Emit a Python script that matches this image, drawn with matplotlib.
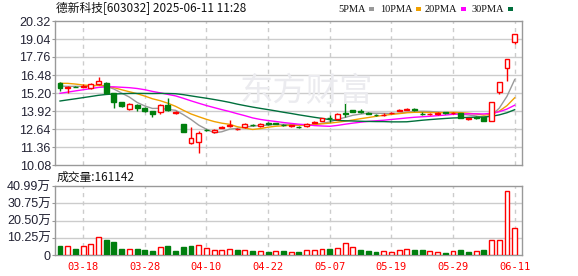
import numpy as np
import matplotlib
matplotlib.use("Agg")
import matplotlib.pyplot as plt
from matplotlib.patches import Rectangle

# ---------------- data ----------------
dates = ["03-13", "03-14", "03-17", "03-18", "03-19", "03-20", "03-21", "03-24", "03-25", "03-26",
         "03-27", "03-28", "03-31", "04-01", "04-02", "04-03", "04-07", "04-08", "04-09", "04-10",
         "04-11", "04-14", "04-15", "04-16", "04-17", "04-18", "04-21", "04-22", "04-23", "04-24",
         "04-25", "04-28", "04-29", "04-30", "05-06", "05-07", "05-08", "05-09", "05-12", "05-13",
         "05-14", "05-15", "05-16", "05-19", "05-20", "05-21", "05-22", "05-23", "05-26", "05-27",
         "05-28", "05-29", "05-30", "06-03", "06-04", "06-05", "06-06", "06-09", "06-10", "06-11"]

open_ = [15.89, 15.54, 15.66, 15.66, 15.55, 15.84, 15.89, 15.18, 14.55, 14.06,
         14.35, 14.16, 13.92, 13.83, 14.35, 13.80, 12.97, 11.62, 11.74, 12.60,
         12.40, 12.74, 12.82, 12.62, 12.78, 12.93, 12.85, 13.08, 13.06, 12.94,
         12.82, 12.79, 12.82, 13.08, 13.22, 13.43, 13.33, 13.75, 13.99, 13.95,
         13.76, 13.67, 13.62, 13.77, 13.94, 14.01, 14.03, 13.74, 13.69, 13.72,
         13.82, 13.78, 13.76, 13.35, 13.52, 13.47, 13.23, 15.29, 16.96, 18.81]
high = [16.00, 15.68, 15.72, 15.85, 15.90, 16.32, 15.95, 15.20, 14.58, 14.50,
        14.40, 14.20, 13.95, 14.45, 14.82, 13.95, 13.00, 12.80, 12.50, 12.66,
        12.62, 12.86, 13.27, 12.72, 13.05, 12.98, 13.08, 13.12, 13.10, 12.98,
        12.96, 12.85, 13.08, 13.18, 13.45, 13.62, 13.75, 14.54, 14.02, 14.03,
        13.82, 13.72, 13.78, 13.88, 14.05, 14.10, 14.10, 13.82, 13.78, 13.88,
        13.86, 13.86, 13.80, 13.42, 13.55, 13.50, 14.55, 16.01, 17.61, 19.37]
low = [15.36, 15.20, 15.60, 15.62, 15.45, 15.80, 15.15, 14.11, 14.22, 14.00,
       13.95, 13.88, 13.47, 13.70, 13.95, 13.70, 12.40, 11.60, 10.96, 12.48,
       12.35, 12.70, 12.78, 12.58, 12.70, 12.85, 12.80, 12.95, 12.98, 12.85,
       12.80, 12.70, 12.78, 13.05, 13.18, 13.16, 13.30, 13.50, 13.82, 13.80,
       13.68, 13.58, 13.58, 13.72, 13.90, 13.97, 13.92, 13.66, 13.65, 13.66,
       13.72, 13.74, 13.42, 13.30, 13.38, 13.20, 13.20, 15.13, 16.08, 18.66]
close = [15.53, 15.65, 15.62, 15.72, 15.82, 16.05, 15.22, 14.58, 14.30, 14.40,
         14.16, 13.94, 13.71, 14.35, 14.00, 13.85, 12.41, 11.98, 12.34, 12.54,
         12.58, 12.78, 12.90, 12.66, 12.97, 12.90, 13.03, 12.98, 13.03, 12.90,
         12.93, 12.76, 13.00, 13.12, 13.42, 13.40, 13.68, 13.70, 13.88, 13.85,
         13.73, 13.64, 13.67, 13.80, 13.97, 14.04, 13.99, 13.70, 13.73, 13.78,
         13.76, 13.80, 13.45, 13.40, 13.42, 13.23, 14.55, 16.01, 17.61, 19.37]

# closes of the 29 sessions before 03-13 (only used to feed the moving averages)
prev_close = [13.20, 13.30, 13.25, 13.40, 13.50, 13.45, 13.60, 13.70, 13.80, 14.10,
              14.00, 13.90, 14.10, 14.20, 14.30, 14.40, 14.60, 14.90, 15.00, 15.30,
              15.70, 16.10, 16.40, 16.20, 16.00, 15.80, 15.60, 15.75, 15.82]

# volume in 万股
volume = [5.35, 5.15, 3.56, 5.15, 6.50, 10.50, 8.90, 7.70, 3.56, 3.37,
          3.56, 2.97, 2.38, 4.55, 5.35, 2.45, 4.75, 5.35, 5.80, 4.16,
          2.77, 2.77, 3.76, 2.97, 2.77, 2.38, 2.38, 1.78, 2.38, 2.38,
          1.50, 1.80, 3.00, 3.00, 3.60, 3.60, 4.20, 7.10, 4.75, 3.00,
          2.40, 1.80, 2.40, 1.60, 3.00, 3.60, 3.00, 3.00, 2.40, 1.80,
          1.20, 2.40, 3.00, 1.80, 2.40, 3.00, 8.90, 8.90, 37.90, 16.11]

ma_periods = [5, 10, 20, 30]
ma_labels = ["5PMA", "10PMA", "20PMA", "30PMA"]
ma_colors = ["#999999", "#f0a000", "#ff00ff", "#006f3c"]

price_ticks = [10.08, 11.36, 12.64, 13.92, 15.20, 16.48, 17.76, 19.04, 20.32]
vol_ticks = [0, 10.2475, 20.495, 30.7425, 40.99]
vol_tick_labels = ["0", "10.25万", "20.50万", "30.75万", "40.99万"]

title = "德新科技[603032] 2025-06-11 11:28"
vol_title = "成交量:161142"

# ---------------- figure ----------------
W, H = 578, 276
fig = plt.figure(figsize=(W / 100, H / 100), dpi=100)
fig.patch.set_facecolor("white")


def px_axes(l, t, r, b):
    return fig.add_axes([l / W, 1 - b / H, (r - l) / W, (b - t) / H])


RED = "#ff0000"
GREEN = "#007f0e"
GRID = "#cccccc"
SPINE = "#999999"
TXT = "#222233"

n = len(close)
x = np.arange(n)
xlim = (-0.65, 59.95)
tick_idx = list(range(3, n, 8))

ax = px_axes(55, 21, 522, 165)
axv = px_axes(55, 186, 522, 255)

for a in (ax, axv):
    a.set_xlim(*xlim)
    for s in a.spines.values():
        s.set_color(SPINE)
        s.set_linewidth(1)
    a.tick_params(axis="y", length=2, color=SPINE, pad=1, labelsize=9, labelcolor=TXT)
    a.tick_params(axis="x", length=0)
    for xi in tick_idx:
        a.axvline(xi, color=GRID, lw=1, ls=(0, (3, 3)), zorder=0)

# watermark
fig.text(240 / W, 1 - 91 / H, "东方财富", fontsize=24, color="#ebebef",
         family="Noto Sans CJK SC", va="center", ha="left", zorder=0)

# price panel
ax.set_ylim(price_ticks[0], price_ticks[-1])
ax.set_yticks(price_ticks)
ax.set_yticklabels([f"{v:.2f}" for v in price_ticks], family="Liberation Sans", fontsize=9, color=TXT)
for v in price_ticks[1:-1]:
    ax.axhline(v, color=GRID, lw=1, zorder=0.5)
ax.set_xticks([])
ax.set_facecolor("none")

all_close = np.array(prev_close + close)
for p, c in zip(ma_periods, ma_colors):
    ma = np.convolve(all_close, np.ones(p) / p, mode="valid")
    ma = ma[-n:]
    ax.plot(x, ma, color=c, lw=1, zorder=2)

bw = 0.64
for i in range(n):
    o, h, l, c = open_[i], high[i], low[i], close[i]
    pc = close[i - 1] if i > 0 else prev_close[-1]
    up = c > o or (c == o and c >= pc)
    col = RED if up else GREEN
    ax.vlines(i, l, h, color=col, lw=1, zorder=3)
    bot = min(o, c)
    hgt = max(abs(c - o), 0.005)
    ax.add_patch(Rectangle((i - bw / 2, bot), bw, hgt,
                           facecolor="white" if up else col, edgecolor=col, lw=1, zorder=4))

# volume panel
axv.set_ylim(0, vol_ticks[-1])
axv.set_yticks(vol_ticks)
axv.set_yticklabels(vol_tick_labels, family=["Liberation Sans", "Noto Sans CJK SC"], fontsize=9, color=TXT)
for v in vol_ticks[1:-1]:
    axv.axhline(v, color=GRID, lw=1, zorder=0.5)
for i in range(n):
    pc = close[i - 1] if i > 0 else prev_close[-1]
    up = close[i] >= pc
    col = RED if up else GREEN
    axv.add_patch(Rectangle((i - bw / 2, 0), bw, volume[i],
                            facecolor="white" if up else col, edgecolor=col, lw=1, zorder=3))
axv.set_xticks(tick_idx)
axv.set_xticklabels([dates[i] for i in tick_idx], family="DejaVu Sans Mono", fontsize=7.5, color=RED)
axv.tick_params(axis="x", pad=5)

# texts
fig.text(56 / W, 1 - 9 / H, title, fontsize=8.5, family=["Noto Sans CJK SC", "DejaVu Sans"],
         color="#111111", va="center", ha="left")
fig.text(57 / W, 1 - 177 / H, vol_title, fontsize=8.5, family=["Noto Sans CJK SC", "DejaVu Sans"],
         color="#111111", va="center", ha="left")

# legend: text then a small colour square
lx = [338, 380, 425, 472]
renderer = fig.canvas.get_renderer()
for xx, lab, c in zip(lx, ma_labels, ma_colors):
    t = fig.text(xx / W, 1 - 9 / H, lab, fontsize=7.5, family="Liberation Serif",
                 color="#111111", va="center", ha="left")
    bb = t.get_window_extent(renderer)
    fig.patches.append(Rectangle((bb.x1 + 3) / W * np.array([1, 0]) + np.array([0, 1 - 10.5 / H]),
                                 5 / W, 4 / H, transform=fig.transFigure,
                                 facecolor=c, edgecolor="none"))

fig.savefig("out.png", dpi=100)
